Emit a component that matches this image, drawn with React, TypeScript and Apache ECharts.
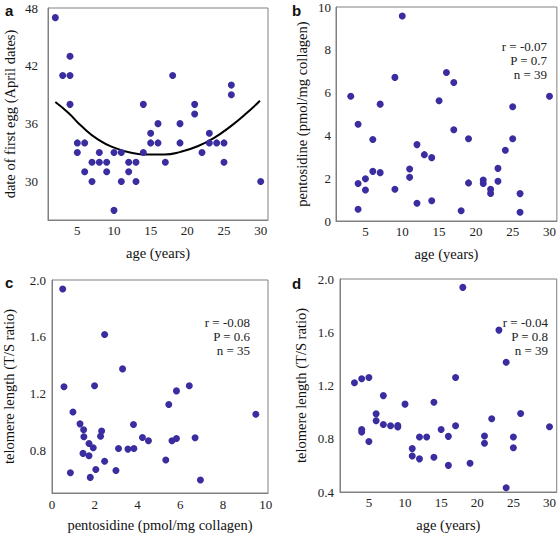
import React, { useEffect, useRef } from "react";
import * as echarts from "echarts";

// Panel a: age vs date of first egg
const ageA = [2, 3, 4, 4, 4, 5, 5, 6, 6, 7, 7, 8, 8, 9, 9, 10, 10, 11, 11, 12, 12, 13, 13, 14, 14, 15, 15, 16, 16, 17, 18, 19, 19, 21, 21, 22, 23, 23, 24, 25, 25, 26, 26, 30];
const dateA = [47, 41, 43, 41, 38, 34, 33, 34, 31, 32, 30, 33, 32, 32, 31, 33, 27, 33, 30, 32, 31, 32, 30, 38, 33, 35, 34, 36, 34, 32, 41, 36, 34, 38, 37, 33, 35, 34, 34, 34, 32, 40, 39, 30];
// fitted curve
const curveAge = [2, 3.8, 5.6, 7.85, 10.1, 12.35, 14.6, 16.9, 19.1, 21.4, 23.6, 25.9, 28.1, 29.9];
const curveDate = [38.24, 37.1, 35.72, 34.34, 33.48, 32.97, 32.79, 32.79, 33.07, 33.65, 34.5, 35.72, 37.1, 38.38];

// Panel b: age vs pentosidine
const ageB = [3, 4, 4, 4, 5, 5, 6, 6, 7, 7, 9, 9, 10, 11, 11, 12, 12, 13, 14, 14, 15, 16, 17, 17, 18, 19, 19, 21, 21, 22, 22, 23, 23, 24, 25, 25, 26, 26, 30];
const pentB = [5.83, 4.52, 1.75, 0.55, 1.97, 1.45, 3.81, 2.32, 5.46, 2.26, 6.71, 1.48, 9.58, 2.43, 2.04, 3.57, 0.83, 3.1, 2.96, 0.95, 5.62, 6.94, 6.47, 4.26, 0.48, 3.84, 1.78, 1.92, 1.75, 1.48, 1.29, 2.46, 1.86, 3.31, 5.34, 3.84, 1.28, 0.41, 5.83];

// Panel c: pentosidine vs telomere length
const pentC = [0.5, 0.56, 0.86, 0.98, 1.31, 1.48, 1.49, 1.45, 1.73, 1.73, 1.79, 1.93, 1.99, 2.05, 2.27, 2.32, 2.46, 2.46, 2.99, 3.11, 3.3, 3.55, 3.81, 3.83, 4.23, 4.51, 5.32, 5.46, 5.61, 5.82, 5.82, 6.42, 6.69, 6.94, 9.53];
const teloC = [1.937, 1.248, 0.643, 1.07, 0.987, 0.945, 0.896, 0.779, 0.849, 0.762, 0.61, 0.819, 1.255, 0.666, 0.9, 0.936, 1.616, 0.723, 0.659, 0.814, 1.374, 0.809, 0.983, 0.814, 0.891, 0.868, 0.732, 1.123, 0.868, 0.884, 1.219, 1.255, 0.889, 0.591, 1.055];

// Panel d: age vs telomere length
const ageD = [3, 4, 4, 4, 5, 5, 6, 6, 7, 7, 8, 9, 9, 10, 11, 11, 12, 12, 13, 14, 14, 15, 16, 16, 17, 17, 18, 19, 21, 21, 22, 23, 24, 24, 25, 25, 26, 30];
const teloD = [1.221, 1.251, 0.87, 0.85, 1.26, 0.78, 0.987, 0.935, 1.124, 0.907, 0.898, 0.9, 0.888, 1.06, 0.726, 0.671, 0.813, 0.649, 0.813, 1.074, 0.661, 0.87, 0.818, 0.6, 1.26, 0.898, 1.937, 0.616, 0.82, 0.766, 0.95, 1.616, 1.375, 0.432, 0.813, 0.733, 0.99, 0.89];

// tick labels
const ticksAgeX = [5, 10, 15, 20, 25, 30];
const ticksDateY = [30, 36, 42, 48];
const ticksPentY = [0, 2, 4, 6, 8, 10];
const ticksPentX = [0, 2, 4, 6, 8, 10];
const ticksTeloC = [0.8, 1.2, 1.6, 2.0];
const ticksTeloD = [0.4, 0.8, 1.2, 1.6, 2.0];

const statsB = ["r = -0.07", "P = 0.7", "n = 39"];
const statsC = ["r = -0.08", "P = 0.6", "n = 35"];
const statsD = ["r = -0.04", "P = 0.8", "n = 39"];

const SERIF = "'Liberation Serif', 'Times New Roman', serif";
const SANS = "'Liberation Sans', Arial, sans-serif";
const DOT = "#3a2da0";
const BORDER = "#808080";

const zip = (a: number[], b: number[]) => a.map((v, i) => [v, b[i]]);

function xAx(gi: number, min: number, max: number, ticks: number[], name: string, nameGap: number, margin: number) {
  return {
    type: "value",
    gridIndex: gi,
    min,
    max,
    name,
    nameLocation: "middle",
    nameGap,
    nameTextStyle: { fontFamily: SERIF, fontSize: 14.5, color: "#111" },
    axisLine: { show: true, onZero: false, lineStyle: { color: BORDER, width: 1 } },
    axisTick: { show: false },
    splitLine: { show: false },
    axisLabel: { customValues: ticks, fontFamily: SERIF, fontSize: 13, color: "#222", margin, showMinLabel: true, showMaxLabel: true },
  };
}

function yAx(gi: number, min: number, max: number, ticks: number[], name: string, nameGap: number, margin: number, dec: number) {
  return {
    type: "value",
    gridIndex: gi,
    min,
    max,
    name,
    nameLocation: "middle",
    nameGap,
    nameRotate: 90,
    nameTextStyle: { fontFamily: SERIF, fontSize: 14.5, color: "#111" },
    axisLine: { show: true, onZero: false, lineStyle: { color: BORDER, width: 1 } },
    axisTick: { show: false },
    splitLine: { show: false },
    axisLabel: {
      customValues: ticks,
      fontFamily: SERIF,
      fontSize: 13,
      color: "#222",
      margin,
      showMinLabel: true,
      showMaxLabel: true,
      formatter: (v: number) => v.toFixed(dec),
    },
  };
}

function statTexts(lines: string[], right: number, ys: number[]) {
  return lines.map((t, i) => ({
    type: "text",
    x: right,
    y: ys[i],
    style: { text: t, fontFamily: SERIF, fontSize: 13, fill: "#222", align: "right", verticalAlign: "middle" },
  }));
}

function letter(t: string, x: number, y: number) {
  return {
    type: "text",
    x,
    y,
    style: { text: t, fontFamily: SANS, fontSize: 15, fontWeight: "bold", fill: "#111", align: "left", verticalAlign: "middle" },
  };
}

const dotStyle = { color: DOT, opacity: 1 };

export default function App() {
  const ref = useRef<HTMLDivElement>(null);
  useEffect(() => {
    if (!ref.current) return;
    const chart = echarts.init(ref.current, undefined, { renderer: "svg" });
    const gridBase = { show: true, borderColor: BORDER, borderWidth: 1, backgroundColor: "transparent", containLabel: false };
    chart.setOption({
      animation: false,
      backgroundColor: "#ffffff",
      grid: [
        { ...gridBase, left: 48, top: 8, width: 220, height: 212 },
        { ...gridBase, left: 336, top: 7, width: 221, height: 214 },
        { ...gridBase, left: 51, top: 280, width: 217, height: 214 },
        { ...gridBase, left: 340, top: 279, width: 217, height: 214 },
      ],
      xAxis: [
        xAx(0, 1, 31, ticksAgeX, "age (years)", 25, 4),
        xAx(1, 1, 31, ticksAgeX, "age (years)", 25, 4),
        xAx(2, 0, 10.1, ticksPentX, "pentosidine (pmol/mg collagen)", 24, 5),
        xAx(3, 1, 31, ticksAgeX, "age (years)", 25, 4),
      ],
      yAxis: [
        yAx(0, 26, 48, ticksDateY, "date of first egg (April dates)", 31, 10, 0),
        yAx(1, 0, 10, ticksPentY, "pentosidine (pmol/mg collagen)", 27, 5, 0),
        yAx(2, 0.5, 2.0, ticksTeloC, "telomere length (T/S ratio)", 36, 6, 1),
        yAx(3, 0.4, 2.0, ticksTeloD, "telomere length (T/S ratio)", 32, 6, 1),
      ],
      series: [
        { type: "scatter", xAxisIndex: 0, yAxisIndex: 0, data: zip(ageA, dateA), symbolSize: 7, itemStyle: dotStyle },
        {
          type: "line",
          xAxisIndex: 0,
          yAxisIndex: 0,
          data: zip(curveAge, curveDate),
          smooth: true,
          showSymbol: false,
          symbol: "none",
          lineStyle: { color: "#000", width: 2 },
          z: 1,
        },
        { type: "scatter", xAxisIndex: 1, yAxisIndex: 1, data: zip(ageB, pentB), symbolSize: 7, itemStyle: dotStyle },
        { type: "scatter", xAxisIndex: 2, yAxisIndex: 2, data: zip(pentC, teloC), symbolSize: 7, itemStyle: dotStyle },
        { type: "scatter", xAxisIndex: 3, yAxisIndex: 3, data: zip(ageD, teloD), symbolSize: 7, itemStyle: dotStyle },
      ],
      graphic: [
        letter("a", 5, 10),
        letter("b", 292, 10),
        letter("c", 5, 282),
        letter("d", 292, 283),
        ...statTexts(statsB, 547, [46, 60.5, 74.5]),
        ...statTexts(statsC, 250, [322, 336, 350]),
        ...statTexts(statsD, 548, [322, 336, 350]),
      ],
    });
    return () => chart.dispose();
  }, []);
  return <div ref={ref} style={{ position: "fixed", left: 0, top: 0, width: 559, height: 533 }} />;
}
